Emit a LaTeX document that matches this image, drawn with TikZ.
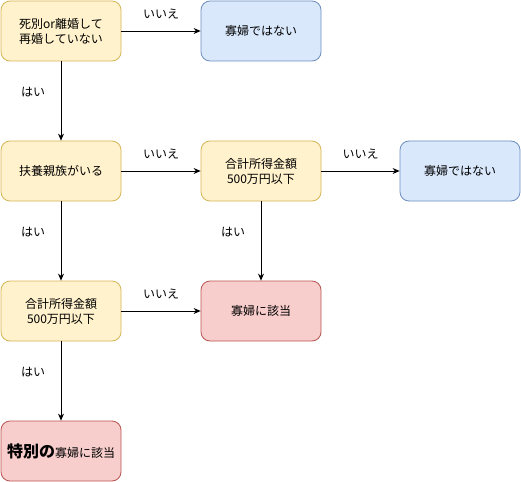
\documentclass[tikz,border=0pt]{standalone}
\usepackage{fontspec}
\setmainfont{Noto Sans CJK JP}
\usepackage{tikz}
\usetikzlibrary{arrows.meta,positioning}
\usepackage{xcolor}
\definecolor{yfill}{HTML}{fff2cc}
\definecolor{ydraw}{HTML}{d6b656}
\definecolor{bfill}{HTML}{dae8fc}
\definecolor{bdraw}{HTML}{6c8ebf}
\definecolor{rfill}{HTML}{f8cecc}
\definecolor{rdraw}{HTML}{b85450}

\begin{document}
\begin{tikzpicture}[
  x=1pt, y=-1pt,
  every node/.style={font=\fontsize{12pt}{15pt}\selectfont},
  box/.style={rounded corners=9pt, minimum width=120pt, minimum height=60pt,
    align=center, inner sep=2pt, line width=0.8pt},
  askbox/.style={box, fill=yfill, draw=ydraw},
  nobox/.style={box, fill=bfill, draw=bdraw},
  yesbox/.style={box, fill=rfill, draw=rdraw},
  arr/.style={-{Stealth[length=7pt,width=6pt]}, line width=0.8pt},
  lblno/.style={yshift=17pt, inner sep=0pt},
  lblyes/.style={xshift=-28pt, yshift=9pt, inner sep=0pt}
]
  % Frame
  \useasboundingbox (0,0) rectangle (521,481);

  % Questions
  \node[askbox] (q1) at (61,31) {死別or離婚して\\再婚していない};
  \node[askbox] (q2) at (61,171) {扶養親族がいる};
  \node[askbox] (q3) at (261,171) {合計所得金額\\500万円以下};
  \node[askbox] (q4) at (61,311) {合計所得金額\\500万円以下};

  % Answers
  \node[nobox] (n1) at (261,31) {寡婦ではない};
  \node[nobox] (n2) at (460,171) {寡婦ではない};
  \node[yesbox] (r1) at (261,311) {寡婦に該当};
  \node[yesbox] (r2) at (61,451)
    {{\fontsize{16pt}{18pt}\selectfont\bfseries 特別の}寡婦に該当};

  % Connectors
  \draw[arr] (q1) -- node[lblno] {いいえ} (n1);
  \draw[arr] (q1) -- node[lblyes] {はい} (q2);
  \draw[arr] (q2) -- node[lblno] {いいえ} (q3);
  \draw[arr] (q2) -- node[lblyes] {はい} (q4);
  \draw[arr] (q3) -- node[lblno] {いいえ} (n2);
  \draw[arr] (q3) -- node[lblyes] {はい} (r1);
  \draw[arr] (q4) -- node[lblno] {いいえ} (r1);
  \draw[arr] (q4) -- node[lblyes] {はい} (r2);
\end{tikzpicture}
\end{document}
